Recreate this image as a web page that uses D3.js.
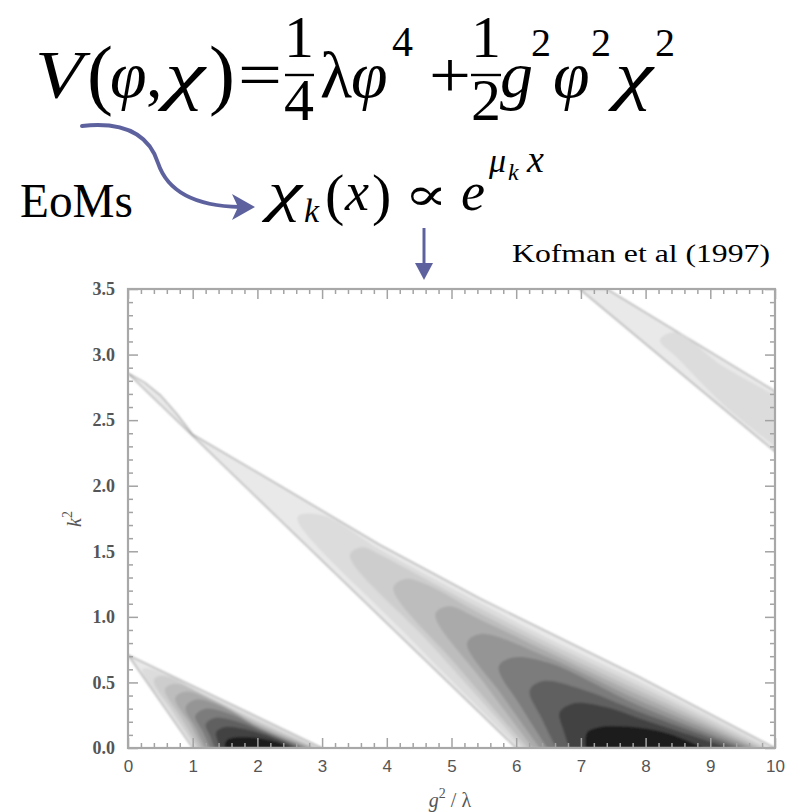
<!DOCTYPE html>
<html><head><meta charset="utf-8">
<script src="https://cdn.jsdelivr.net/npm/d3@7"></script>
<style>body{margin:0;background:#fff}svg{display:block}</style>
</head><body>
<svg id="c" width="789" height="812"></svg>
<script>
// ---------- data ----------
const xTicks = [0,1,2,3,4,5,6,7,8,9,10];
const yTicks = [0.0,0.5,1.0,1.5,2.0,2.5,3.0,3.5];
// contour regions: [g^2/lambda, k^2] boundary points, outermost level first
const band1Levels = [
  [[1.0,0],[0,0.71],[3.0,0]],
  [[1.03,0],[0.6,0.31],[0.22,0.6],[0.36,0.6],[1.0,0.455],[2.0,0.222],[2.97,0]],
  [[1.06,0],[0.72,0.26],[0.4,0.52],[0.56,0.55],[1.2,0.40],[2.0,0.207],[2.93,0]],
  [[1.1,0],[0.84,0.22],[0.57,0.45],[0.74,0.49],[1.3,0.37],[2.0,0.192],[2.89,0]],
  [[1.15,0],[0.95,0.19],[0.73,0.38],[0.9,0.43],[1.4,0.34],[2.0,0.177],[2.85,0]],
  [[1.2,0],[1.05,0.15],[0.89,0.31],[1.05,0.37],[1.5,0.305],[2.0,0.162],[2.8,0]],
  [[1.27,0],[1.16,0.12],[1.04,0.245],[1.2,0.30],[1.6,0.255],[2.05,0.145],[2.74,0]],
  [[1.34,0],[1.27,0.09],[1.2,0.18],[1.35,0.23],[1.7,0.2],[2.1,0.12],[2.67,0]],
  [[1.42,0],[1.38,0.06],[1.36,0.12],[1.5,0.16],[1.8,0.145],[2.2,0.085],[2.6,0]],
  [[1.5,0],[1.5,0.035],[1.54,0.065],[1.65,0.08],[2.0,0.077],[2.3,0.045],[2.5,0]]
];
const band2Levels = [
  [[6.0,0],[0,2.857],[0.25,2.79],[0.5,2.69],[0.75,2.55],[1.0,2.39],[2.35,2.0],[3.89,1.55],[5.44,1.14],[7.91,0.54],[10,0]],
  [[6.05,0],[4.27,0.88],[2.62,1.76],[3.0,1.775],[3.89,1.515],[4.5,1.35],[5.44,1.105],[6.5,0.835],[7.91,0.505],[9.94,0]],
  [[6.11,0],[4.7,0.78],[3.43,1.47],[3.62,1.53],[3.89,1.475],[4.5,1.315],[5.44,1.065],[6.5,0.80],[7.91,0.47],[9.87,0]],
  [[6.18,0],[5.1,0.62],[4.10,1.22],[4.3,1.29],[4.6,1.25],[5.44,1.025],[6.5,0.765],[7.91,0.435],[9.8,0]],
  [[6.26,0],[5.48,0.51],[4.75,1.02],[4.95,1.08],[5.44,0.98],[6.5,0.73],[7.91,0.40],[9.72,0]],
  [[6.36,0],[5.77,0.41],[5.24,0.80],[5.45,0.87],[6.5,0.69],[7.91,0.36],[9.65,0]],
  [[6.48,0],[6.08,0.31],[5.73,0.62],[5.95,0.69],[6.5,0.65],[7.91,0.32],[9.55,0]],
  [[6.62,0],[6.4,0.22],[6.21,0.44],[6.42,0.51],[7.0,0.45],[7.91,0.275],[9.45,0]],
  [[6.82,0],[6.73,0.135],[6.67,0.27],[6.88,0.34],[7.4,0.31],[7.91,0.225],[9.3,0]],
  [[7.08,0],[7.07,0.06],[7.10,0.12],[7.3,0.16],[7.91,0.155],[8.35,0.11],[8.9,0]]
];
const band3Levels = [
  [[6.98,3.5],[10,2.26],[10,2.72],[7.40,3.5]],
  [[10,2.30],[9.2,2.62],[8.5,2.97],[8.22,3.11],[8.45,3.17],[9.2,2.91],[10,2.69]]
];
// ---------- styles ----------
const levelGrays = ['#e9e9e9','#dcdcdc','#cdcdcd','#bdbdbd','#aaaaaa','#959595','#7c7c7c','#606060','#424242','#1e1e1e'];
const arrowColor = '#5d629e';

const svg = d3.select('#c');
const defs = svg.append('defs');
const L = 128, R = 775, T = 289, B = 748;
const x = d3.scaleLinear().domain([0,10]).range([L,R]);
const y = d3.scaleLinear().domain([0,3.5]).range([B,T]);

defs.append('clipPath').attr('id','plot').append('rect')
  .attr('x',L).attr('y',T).attr('width',R-L).attr('height',B-T);
defs.append('filter').attr('id','soft').attr('x','-5%').attr('y','-5%').attr('width','110%').attr('height','110%')
  .append('feGaussianBlur').attr('stdDeviation',0.9);

const cont = svg.append('g').attr('clip-path','url(#plot)').append('g').attr('filter','url(#soft)');
const smooth = d3.line().x(d=>x(d[0])).y(d=>y(d[1])).curve(d3.curveCatmullRom.alpha(0.5));
const straight = d3.line().x(d=>x(d[0])).y(d=>y(d[1]));

function drawBand(levels){
  levels.forEach((pts,i)=>{
    const gen = (i===0) ? straight : smooth;
    cont.append('path').attr('d', gen(pts)+'Z')
      .attr('fill', levelGrays[i])
      .attr('stroke', i===0 ? '#9c9c9c' : 'none')
      .attr('stroke-width', i===0 ? 1.1 : 0)
      .attr('stroke-linejoin','round');
  });
}
drawBand(band1Levels);
drawBand(band2Levels);
drawBand(band3Levels);

// ---------- axes ----------
const tickCol = '#a3a3a3';
const xMinor = d3.range(0,10.001,0.2).filter(v=>Math.abs(v-Math.round(v))>1e-6);
const yMinor = d3.range(0,3.5001,0.1).filter(v=>Math.abs(v*2-Math.round(v*2))>1e-6);
function styleAxis(g){ g.select('.domain').remove(); g.selectAll('line').attr('stroke',tickCol).attr('stroke-width',1.5); }

svg.append('g').attr('transform',`translate(0,${B})`)
  .call(d3.axisBottom(x).tickValues(xTicks).tickSize(-10).tickPadding(12).tickFormat(d3.format('d')))
  .call(styleAxis)
  .call(g=>g.selectAll('text').attr('font-family','Liberation Sans, Arial, sans-serif').attr('font-size',17).attr('fill','#555'));
svg.append('g').attr('transform',`translate(0,${B})`).call(d3.axisBottom(x).tickValues(xMinor).tickSize(-5).tickFormat('')).call(styleAxis);
svg.append('g').attr('transform',`translate(0,${T})`).call(d3.axisTop(x).tickValues(xTicks).tickSize(-10).tickFormat('')).call(styleAxis);
svg.append('g').attr('transform',`translate(0,${T})`).call(d3.axisTop(x).tickValues(xMinor).tickSize(-5).tickFormat('')).call(styleAxis);

svg.append('g').attr('transform',`translate(${L},0)`)
  .call(d3.axisLeft(y).tickValues(yTicks).tickSize(-10).tickPadding(13).tickFormat(d3.format('.1f')))
  .call(styleAxis)
  .call(g=>g.selectAll('text').attr('font-family','Liberation Serif, Times New Roman, serif').attr('font-size',18).attr('font-weight','bold').attr('fill','#555'));
svg.append('g').attr('transform',`translate(${L},0)`).call(d3.axisLeft(y).tickValues(yMinor).tickSize(-5).tickFormat('')).call(styleAxis);
svg.append('g').attr('transform',`translate(${R},0)`).call(d3.axisRight(y).tickValues(yTicks).tickSize(-10).tickFormat('')).call(styleAxis);
svg.append('g').attr('transform',`translate(${R},0)`).call(d3.axisRight(y).tickValues(yMinor).tickSize(-5).tickFormat('')).call(styleAxis);

svg.append('rect').attr('x',L).attr('y',T).attr('width',R-L).attr('height',B-T)
  .attr('fill','none').attr('stroke','#a8a8a8').attr('stroke-width',2.2);

// axis titles
const xt = svg.append('text').attr('x',450).attr('y',807).attr('text-anchor','middle')
  .attr('font-family','Liberation Serif, serif').attr('font-size',20).attr('fill','#555');
xt.append('tspan').attr('font-style','italic').text('g');
xt.append('tspan').attr('dy',-9).attr('font-size',14).text('2');
xt.append('tspan').attr('dy',9).text(' / λ');
const yt = svg.append('text').attr('transform','translate(81,519) rotate(-90)').attr('text-anchor','middle')
  .attr('font-family','Liberation Serif, serif').attr('font-size',20).attr('fill','#555');
yt.append('tspan').attr('font-style','italic').text('k');
yt.append('tspan').attr('dy',-9).attr('font-size',14).text('2');

// ---------- formula annotations ----------
const FF = 'Liberation Serif, DejaVu Serif, serif';
function t(str, px, py, size, opts){
  opts = opts || {};
  const e = svg.append('text').attr('x',px).attr('y',py).attr('font-family',opts.f || FF)
    .attr('font-size',size).attr('fill','#000').text(str);
  if (opts.i) e.attr('font-style','italic');
  if (opts.m) e.attr('text-anchor','middle');
  if (opts.w) e.attr('textLength',opts.w).attr('lengthAdjust','spacingAndGlyphs');
  return e;
}
function bar(x1,x2,yy){ svg.append('line').attr('x1',x1).attr('x2',x2).attr('y1',yy).attr('y2',yy).attr('stroke','#000').attr('stroke-width',2.4); }
// V(phi,chi) = 1/4 lambda phi^4 + 1/2 g^2 phi^2 chi^2
t('V',35,97,68,{i:1,w:48});
t('(',87,100,78);
t('φ',110,97,66,{i:1});
t(',',146,97,66);
t('χ',165,97,66,{i:1,w:40});
t(')',209,100,78);
t('=',238,97,66,{w:44});
t('1',299,57,60,{m:1}); bar(285,314,75); t('4',299,120,60,{m:1});
t('λ',320,97,66);
t('φ',351,97,66,{i:1});
t('4',392,56,42);
t('+',429,97,66,{w:42});
t('1',486,57,60,{m:1}); bar(471,501,75); t('2',486,120,60,{m:1});
t('g',500,97,66,{i:1});
t('2',531,56,40);
t('φ',553,97,66,{i:1});
t('2',591,56,40);
t('χ',615,97,66,{i:1,w:38});
t('2',655,56,40);
// EoMs and chi_k(x) ∝ e^{mu_k x}
t('EoMs',20,217,48,{w:113});
t('χ',268,210,54,{i:1,w:34});
t('k',304,222,34,{i:1});
t('(',325,214,58);
t('x',345,210,54,{i:1});
t(')',372,214,58);
t('∝',404,210,46,{f:'DejaVu Serif, serif',w:44});
t('e',461,210,54,{i:1});
t('μ',489,172,34,{i:1});
t('k',508,180,24,{i:1});
t('x',527,172,38,{i:1});
svg.append('text').attr('x',512).attr('y',262)
  .attr('font-family',FF).attr('font-size',25).attr('fill','#000')
  .attr('textLength',258).attr('lengthAdjust','spacingAndGlyphs').text('Kofman et al (1997)');

// arrows
svg.append('path').attr('d','M82,126 C128,121 150,138 158,163 C167,190 192,206 240,207')
  .attr('fill','none').attr('stroke',arrowColor).attr('stroke-width',4).attr('stroke-linecap','round');
svg.append('path').attr('d','M232,194 L255,207 L232,220 L238,207 Z').attr('fill',arrowColor);
svg.append('line').attr('x1',424).attr('x2',424).attr('y1',228).attr('y2',268)
  .attr('stroke',arrowColor).attr('stroke-width',3);
svg.append('path').attr('d','M415,263 L433,263 L424,280 Z').attr('fill',arrowColor);
</script>
</body></html>
